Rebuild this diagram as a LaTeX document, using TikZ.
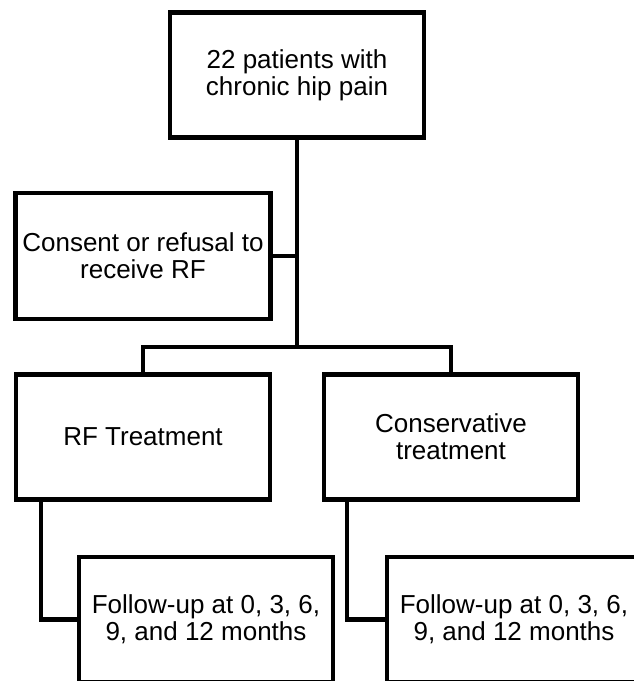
\documentclass[tikz,border=0pt]{standalone}
\usepackage{fontspec}
\setmainfont{Liberation Sans}
\begin{document}
\begin{tikzpicture}[x=1pt,y=-1pt,
  box/.style={draw, line width=4.5pt, inner sep=0pt, minimum width=254pt, minimum height=125pt,
    align=center, font=\fontsize{26}{27}\selectfont},
  link/.style={draw, line width=4.5pt}]
\useasboundingbox (0,0) rectangle (633,681);
\node[box] (top) at (297,75) {22 patients with\\chronic hip pain};
\node[box, minimum width=255pt, minimum height=126pt] (consent) at (143,256) {Consent or refusal to\\receive RF};
\node[box] (rf) at (143,437) {RF Treatment};
\node[box] (cons) at (451,437) {Conservative\\treatment};
\node[box] (fu1) at (206,619.5) {Follow-up at 0, 3, 6,\\9, and 12 months};
\node[box] (fu2) at (514,619.5) {Follow-up at 0, 3, 6,\\9, and 12 months};
\coordinate (j) at (297,347);
\draw[link] (top.south) -- (j);
\draw[link] (consent.east) -- (consent.east -| j);
\draw[link] (rf.north) |- (j) -| (cons.north);
\draw[link] ([xshift=27pt]rf.south west) |- (fu1.west);
\draw[link] ([xshift=25pt]cons.south west) |- (fu2.west);
\end{tikzpicture}
\end{document}
